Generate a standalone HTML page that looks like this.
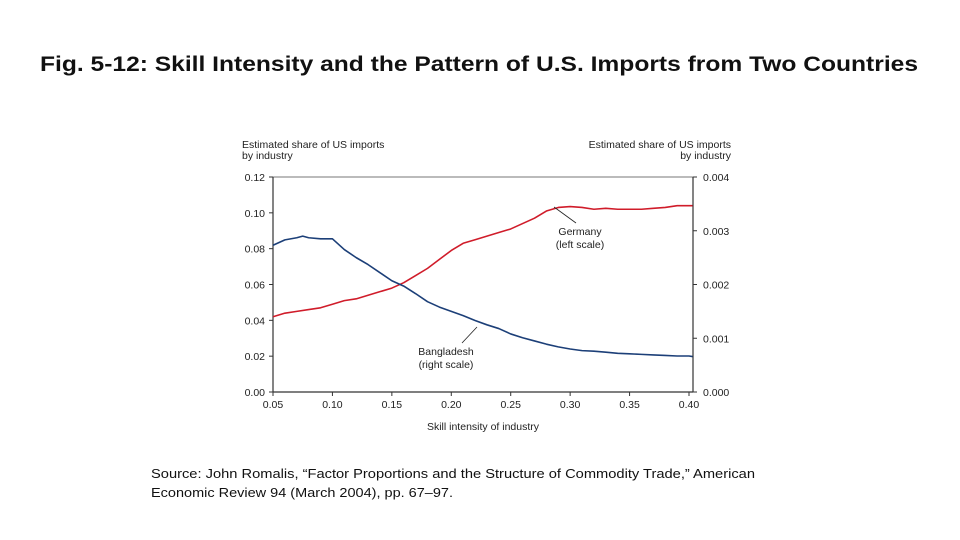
<!DOCTYPE html>
<html><head><meta charset="utf-8"><style>
html,body{margin:0;padding:0;background:#fff;}
svg{display:block;}
text{font-family:"Liberation Sans",Arial,sans-serif;}
</style></head><body>
<svg id="chart" width="960" height="540" viewBox="0 0 960 540">
<text x="479" y="71" text-anchor="middle" font-size="21" font-weight="bold" fill="#111" textLength="878" lengthAdjust="spacingAndGlyphs">Fig. 5-12:  Skill Intensity and the Pattern of U.S. Imports from Two Countries</text>
<text font-size="10.5" fill="#222"><tspan x="242" y="148">Estimated share of US imports</tspan><tspan x="242" y="159">by industry</tspan></text>
<text font-size="10.5" fill="#222" text-anchor="end"><tspan x="731" y="148">Estimated share of US imports</tspan><tspan x="731" y="159">by industry</tspan></text>
<line x1="273" y1="177" x2="693" y2="177" stroke="#777" stroke-width="1"/>
<line x1="273" y1="177" x2="273" y2="392" stroke="#333" stroke-width="1.2"/>
<line x1="693" y1="177" x2="693" y2="392" stroke="#333" stroke-width="1.2"/>
<line x1="273" y1="392" x2="693" y2="392" stroke="#333" stroke-width="1.2"/>
<g id="ticks"></g>
<text x="483" y="430" text-anchor="middle" font-size="10.5" fill="#222">Skill intensity of industry</text>
<g id="series"></g>
<line x1="554" y1="207" x2="576" y2="223" stroke="#222" stroke-width="0.8"/>
<text font-size="10.5" fill="#222" text-anchor="middle"><tspan x="580" y="235">Germany</tspan><tspan x="580" y="248">(left scale)</tspan></text>
<line x1="477" y1="327" x2="462" y2="343" stroke="#222" stroke-width="0.8"/>
<text font-size="10.5" fill="#222" text-anchor="middle"><tspan x="446" y="355">Bangladesh</tspan><tspan x="446" y="368">(right scale)</tspan></text>
<text font-size="13" fill="#111"><tspan x="151" y="478" textLength="604" lengthAdjust="spacingAndGlyphs">Source: John Romalis, “Factor Proportions and the Structure of Commodity Trade,” American</tspan><tspan x="151" y="497" textLength="302" lengthAdjust="spacingAndGlyphs">Economic Review 94 (March 2004), pp. 67–97.</tspan></text>
</svg>
<script>
const xTicks=[0.05,0.10,0.15,0.20,0.25,0.30,0.35,0.40];
const leftTicks=[0,0.02,0.04,0.06,0.08,0.10,0.12];
const rightTicks=[0,0.001,0.002,0.003,0.004];
const germanyX=[0.05,0.06,0.07,0.08,0.09,0.10,0.11,0.12,0.13,0.14,0.15,0.16,0.17,0.18,0.19,0.20,0.21,0.22,0.23,0.24,0.25,0.26,0.27,0.28,0.29,0.30,0.31,0.32,0.33,0.34,0.35,0.36,0.37,0.38,0.39,0.40,0.403];
const germanyY=[0.042,0.044,0.045,0.046,0.047,0.049,0.051,0.052,0.054,0.056,0.058,0.061,0.065,0.069,0.074,0.079,0.083,0.085,0.087,0.089,0.091,0.094,0.097,0.101,0.103,0.1035,0.103,0.102,0.1025,0.102,0.102,0.102,0.1025,0.103,0.104,0.104,0.104];
const bangladeshX=[0.05,0.06,0.07,0.075,0.08,0.09,0.10,0.11,0.12,0.13,0.14,0.15,0.16,0.17,0.18,0.19,0.20,0.21,0.22,0.23,0.24,0.25,0.26,0.27,0.28,0.29,0.30,0.31,0.32,0.33,0.34,0.35,0.36,0.37,0.38,0.39,0.40,0.403];
const bangladeshY=[0.00273,0.00283,0.00287,0.0029,0.00287,0.00285,0.00285,0.00265,0.0025,0.00237,0.00222,0.00207,0.00197,0.00183,0.00168,0.00158,0.0015,0.00142,0.00133,0.00125,0.00118,0.00108,0.00101,0.00095,0.00089,0.00084,0.0008,0.00077,0.00076,0.00074,0.00072,0.00071,0.0007,0.00069,0.00068,0.00067,0.00067,0.00066];
const NS='http://www.w3.org/2000/svg';
const X=v=>273+(v-0.05)/0.35*416;
const YL=v=>392-v/0.12*215;
const YR=v=>392-v/0.004*215;
const tg=document.getElementById('ticks');
function mk(tag,attrs,parent){const e=document.createElementNS(NS,tag);for(const k in attrs)e.setAttribute(k,attrs[k]);parent.appendChild(e);return e;}
xTicks.forEach(v=>{
  const l=mk('line',{x1:X(v),x2:X(v),y1:392,y2:396,stroke:'#333'},tg);
  
  
  const t=mk('text',{x:X(v),y:408,'text-anchor':'middle','font-size':'10.5',fill:'#222'},tg);
  t.textContent=v.toFixed(2);
  
  
});
leftTicks.forEach(v=>{
  const l=mk('line',{x1:269,x2:273,y1:YL(v),y2:YL(v),stroke:'#333'},tg);
  
  
  const t=mk('text',{x:265,y:YL(v)+4,'text-anchor':'end','font-size':'10.5',fill:'#222'},tg);
  t.textContent=v.toFixed(2);
  
  
});
rightTicks.forEach(v=>{
  const l=mk('line',{x1:693,x2:697,y1:YR(v),y2:YR(v),stroke:'#333'},tg);
  
  
  const t=mk('text',{x:703,y:YR(v)+4,'text-anchor':'start','font-size':'10.5',fill:'#222'},tg);
  t.textContent=v.toFixed(3);
  
  
});
const sg=document.getElementById('series');
const gp=mk('polyline',{points:germanyX.map((x,i)=>X(x)+','+YL(germanyY[i])).join(' '),fill:'none',stroke:'#d01c2a','stroke-width':1.6,'stroke-linejoin':'round'},sg);


const bp=mk('polyline',{points:bangladeshX.map((x,i)=>X(x)+','+YR(bangladeshY[i])).join(' '),fill:'none',stroke:'#1c3f78','stroke-width':1.6,'stroke-linejoin':'round'},sg);


</script>
</body></html>
